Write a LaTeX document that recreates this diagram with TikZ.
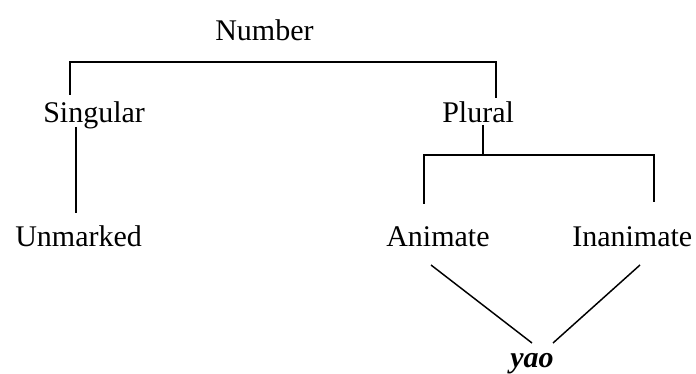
\documentclass[tikz,border=0pt]{standalone}
\usepackage{fontspec}
\setmainfont{Liberation Serif}
\begin{document}
\begin{tikzpicture}[x=0.75pt,y=-0.75pt,
  label/.style={anchor=base west,inner sep=0pt,font=\fontsize{22.5}{27}\selectfont},
  branch/.style={line width=1.1pt,line cap=butt,line join=miter}]
\useasboundingbox (0,0) rectangle (696,374);

% category labels
\node[label] (num) at (215,41) {Number};
\node[label] (sg)  at (43,123) {Singular};
\node[label] (pl)  at (442,123) {Plural};
\node[label] (unm) at (15,246) {Unmarked};
\node[label] (an)  at (386,246) {Animate};
\node[label] (inan) at (572,246) {Inanimate};
\node[label,font=\fontsize{22.5}{27}\selectfont\bfseries\itshape] (yao) at (510,367) {yao};

% end points of the branches
\coordinate (sgUp)   at (70,95);
\coordinate (numBar) at (70,62);
\coordinate (plUp)   at (496,98);
\coordinate (sgDown) at (76,127);
\coordinate (unmUp)  at (76,213);
\coordinate (plDown) at (483,125);
\coordinate (plBar)  at (483,155);
\coordinate (anUp)   at (424,204);
\coordinate (inanUp) at (654,202);
\coordinate (anLow)  at (431,265);
\coordinate (inanLow) at (640,265);
\coordinate (yaoL)   at (532,343);
\coordinate (yaoR)   at (553,343);

% Number -> Singular / Plural
\draw[branch] (sgUp) |- (numBar -| plUp) -- (plUp);
% Singular -> Unmarked
\draw[branch] (sgDown) -- (unmUp);
% Plural -> Animate / Inanimate
\draw[branch] (plDown) -- (plBar);
\draw[branch] (anUp) |- (plBar -| inanUp) -- (inanUp);
% Animate / Inanimate -> yao
\draw[branch] (anLow) -- (yaoL);
\draw[branch] (inanLow) -- (yaoR);
\end{tikzpicture}
\end{document}
